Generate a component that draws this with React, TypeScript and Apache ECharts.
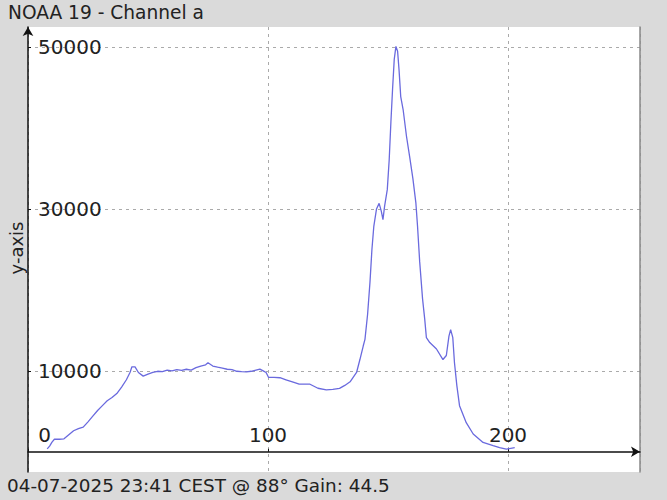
import React, { useEffect, useRef } from "react";
import * as echarts from "echarts";

const titleText = "NOAA 19 - Channel a";
const footerText = "04-07-2025 23:41 CEST @ 88\u00b0 Gain: 44.5";
const yAxisTitle = "y-axis";

const xTickValues = [0, 100, 200];
const yTickValues = [10000, 30000, 50000];

const xs = [
  8, 9, 10, 11, 13, 15, 17, 19, 21, 23, 25, 27, 29, 31, 33, 35, 37, 39, 41, 42.5,
  43.3, 44.6, 46, 48, 50, 52, 54, 56, 58, 60, 62, 64, 66, 68, 70, 72, 74, 75, 77, 79,
  81, 83, 85, 87, 89, 91, 93, 95, 96.6, 98, 99.2, 100.2, 102.5, 105, 107.5, 110.5, 113, 117.5,
  120.8, 124.3, 127, 129.8, 132, 134.2, 136.9, 138.3, 139.7, 140.4, 141.5, 142.5, 143.3, 144.1,
  145.2, 146.3, 147.2, 147.9, 148.6, 149.7, 150.5, 151.2, 151.9, 152.6, 153.3, 154, 154.6, 155.3,
  156.3, 157.7, 159, 160.4, 161.6, 162.3, 163.2, 164.4, 165.3, 166, 167.4, 170.2, 172.9, 174.3,
  175.4, 176.1, 177, 177.7, 178.7, 179.8, 182.6, 185.5, 189.6, 193.8, 196.5, 199.3, 202.8,
];

const ys = [
  350, 700, 1200, 1550, 1550, 1600, 2100, 2600, 2850, 3050, 3700, 4400, 5100, 5700, 6300, 6700, 7200, 8000, 8900, 9800,
  10500, 10500, 9800, 9350, 9600, 9800, 9950, 9900, 10100, 10000, 10150, 10050, 10200, 10100, 10400, 10600, 10750, 11000, 10600, 10450,
  10350, 10200, 10150, 9950, 9900, 9880, 9950, 10100, 10210, 10000, 9800, 9200, 9200, 9150, 8900, 8600, 8350, 8350,
  7850, 7650, 7700, 7830, 8200, 8650, 9800, 11400, 13100, 13900, 17000, 21000, 25000, 27900,
  30000, 30700, 29750, 28700, 30400, 32400, 36100, 40700, 44800, 48500, 50100, 49500, 47200, 43900,
  42300, 39000, 36500, 33700, 30800, 27900, 23500, 18900, 16400, 14100, 13500, 12700, 11400, 11900,
  14300, 15100, 14100, 11000, 8150, 5700, 3600, 2200, 1150, 750, 500, 330, 500,
];

const FONT = "DejaVu Sans";

export default function App() {
  const ref = useRef<HTMLDivElement>(null);
  useEffect(() => {
    if (!ref.current) return;
    const chart = echarts.init(ref.current, null, { renderer: "svg" });
    const data = xs.map((x, i) => [x, ys[i]]);
    const gridLine = { show: true, lineStyle: { color: "#aaaaaa", width: 1, type: [3, 4] as any } };
    chart.setOption({
      animation: false,
      backgroundColor: "#dadada",
      title: [
        {
          text: titleText,
          left: 8,
          top: 3,
          padding: 0,
          textStyle: { fontSize: 18.6, fontWeight: "normal", color: "#222", fontFamily: FONT },
        },
        {
          text: footerText,
          left: 7,
          top: 476,
          padding: 0,
          textStyle: { fontSize: 18.4, fontWeight: "normal", color: "#222", fontFamily: FONT },
        },
      ],
      graphic: [
        {
          type: "text",
          x: 16,
          y: 248,
          rotation: Math.PI / 2,
          style: {
            text: yAxisTitle,
            align: "center",
            verticalAlign: "middle",
            fontSize: 18,
            fontFamily: FONT,
            fill: "#222",
          },
        },
      ],
      grid: {
        left: 28,
        right: 27,
        top: 27,
        bottom: 28,
        show: true,
        backgroundColor: "#ffffff",
        borderWidth: 0,
      },
      xAxis: {
        type: "value",
        min: 0,
        max: 255,
        interval: 100,
        axisLine: {
          show: true,
          onZero: true,
          symbol: ["none", "arrow"],
          symbolSize: [8, 9],
          lineStyle: { color: "#111", width: 1.5 },
        },
        axisTick: { show: true, inside: true, length: 3, lineStyle: { color: "#111" } },
        axisLabel: {
          inside: true,
          margin: 27,
          showMaxLabel: false,
          formatter: (v: number) =>
            xTickValues.indexOf(v) < 0 ? "" : v === 0 ? "{z|0}" : "{n|" + v + "}",
          rich: {
            z: { fontSize: 20, fontFamily: FONT, color: "#222", padding: [0, 0, 0, 33] },
            n: { fontSize: 20, fontFamily: FONT, color: "#222" },
          },
        },
        splitLine: gridLine,
      },
      yAxis: [
        {
          type: "value",
          min: -2500,
          max: 52500,
          axisLine: {
            show: true,
            onZero: false,
            symbol: ["none", "arrow"],
            symbolSize: [8, 9],
            lineStyle: { color: "#111", width: 1.5 },
          },
          axisTick: { show: true, inside: true, length: 3, customValues: yTickValues, lineStyle: { color: "#111" } },
          axisLabel: {
            inside: true,
            margin: 10,
            customValues: yTickValues,
            formatter: (v: number) => String(v),
            fontSize: 20,
            fontFamily: FONT,
            color: "#222",
          },
          splitLine: gridLine,
        },
        {
          type: "value",
          position: "right",
          min: -2500,
          max: 52500,
          axisLine: { show: true, onZero: false, lineStyle: { color: "#888", width: 1.5 } },
          axisTick: { show: false },
          axisLabel: { show: false },
          splitLine: { show: false },
        },
      ],
      series: [
        {
          type: "line",
          data,
          yAxisIndex: 0,
          showSymbol: false,
          symbol: "none",
          lineStyle: { color: "#6a6ade", width: 1.3 },
        },
      ],
    });
    return () => chart.dispose();
  }, []);
  return (
    <div
      ref={ref}
      style={{ position: "fixed", left: 0, top: 0, width: 667, height: 500 }}
    />
  );
}
